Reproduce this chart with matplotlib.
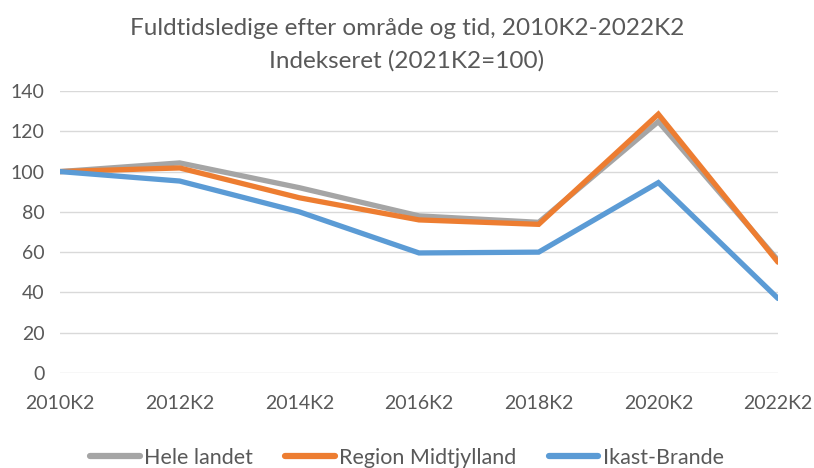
import matplotlib
matplotlib.use("Agg")
import matplotlib.pyplot as plt

periods = ["2010K2", "2012K2", "2014K2", "2016K2", "2018K2", "2020K2", "2022K2"]
hele_landet = [100, 104.3, 92, 78, 74.8, 124.8, 56]
region_midtjylland = [100, 101.8, 87, 76, 73.8, 128.5, 55]
ikast_brande = [100, 95.3, 80, 59.6, 60, 94.5, 37]

series_names = ["Hele landet", "Region Midtjylland", "Ikast-Brande"]
colors = ["#A5A5A5", "#ED7D31", "#5B9BD5"]
title = "Fuldtidsledige efter område og tid, 2010K2-2022K2\nIndekseret (2021K2=100)"

plt.rcParams['font.family'] = ['Lato', 'DejaVu Sans']
text_color = "#595959"

fig = plt.figure(figsize=(8.14, 4.68), dpi=100)
ax = fig.add_axes([60/814, 1-373/468, (778-60)/814, (373-91)/468])

x = list(range(len(periods)))
for vals, name, c in zip([hele_landet, region_midtjylland, ikast_brande], series_names, colors):
    ax.plot(x, vals, color=c, lw=3.8, label=name, solid_capstyle='round', solid_joinstyle='miter', zorder=3)

ax.set_xlim(0, len(periods)-1)
ax.set_ylim(0, 140)
ax.set_yticks(range(0, 141, 20))
ax.set_xticks(x)
ax.set_xticklabels(periods)
ax.grid(axis='y', color="#D9D9D9", lw=1.0, zorder=0)
for s in ax.spines.values():
    s.set_visible(False)
ax.tick_params(axis='both', length=0, labelsize=14, colors=text_color)
ax.tick_params(axis='y', pad=11)
ax.tick_params(axis='x', pad=16)

fig.text(0.5, 1-45/468, title, ha='center', va='center', fontsize=17.5, color=text_color, linespacing=1.6)

leg = fig.legend(loc='center', bbox_to_anchor=(0.5, 1-458/468), ncol=3, frameon=False,
                 fontsize=15.5, handlelength=2.3, handletextpad=0.2, columnspacing=1.5)
for t in leg.get_texts():
    t.set_color(text_color)
for h in leg.get_lines():
    h.set_linewidth(4.5)

fig.savefig("out.png", dpi=100)
